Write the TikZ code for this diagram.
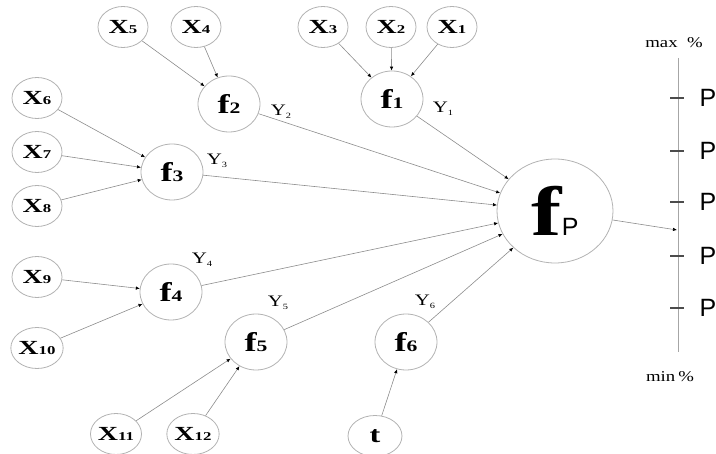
\documentclass[tikz,border=0pt]{standalone}
\usepackage{fontspec}
\usepackage{graphicx}
\setmainfont{Liberation Serif}
\setsansfont{Liberation Sans}
\usetikzlibrary{shapes.geometric,arrows.meta}
\newcommand\xlab[1]{\scalebox{1.4}[1]{\fontsize{20}{20}\selectfont\bfseries X\fontsize{12}{12}\selectfont #1}}
\newcommand\flab[1]{\scalebox{1.35}[1]{\fontsize{27}{27}\selectfont\bfseries f\fontsize{16}{16}\selectfont #1}}
\newcommand\ylab[1]{\scalebox{1.3}[1]{\fontsize{16}{16}\selectfont Y\raisebox{-0.4ex}{\fontsize{8}{8}\selectfont #1}}}
\begin{document}
\begin{tikzpicture}[x=1pt,y=-1pt,
  circ/.style={ellipse,draw=black!30,line width=0.8pt,inner sep=0pt},
  xin/.style={circ,minimum width=50pt,minimum height=41pt},
  fn/.style={circ,minimum width=62pt,minimum height=56pt},
  conn/.style={draw=black!45,line width=0.6pt,-{Latex[length=4pt,width=3.5pt,black]}},
  tickmark/.style={draw=black!70,line width=1.2pt},
  plab/.style={font=\sffamily\fontsize{25}{25}\selectfont,inner sep=0pt},
  ylabel/.style={inner sep=0pt},
  scalelab/.style={font=\fontsize{15}{15}\selectfont,inner sep=0pt}
  ]
\useasboundingbox (0,0) rectangle (716,454);
% inputs
\node[xin] (x5) at (123,27) {\xlab{5}};
\node[xin] (x4) at (196,27) {\xlab{4}};
\node[xin] (x3) at (323,27) {\xlab{3}};
\node[xin] (x2) at (391,27) {\xlab{2}};
\node[xin] (x1) at (452,27) {\xlab{1}};
\node[xin] (x6) at (37,98) {\xlab{6}};
\node[xin] (x7) at (37,152) {\xlab{7}};
\node[xin] (x8) at (37,206) {\xlab{8}};
\node[xin] (x9) at (37,277) {\xlab{9}};
\node[xin] (x10) at (37,348) {\xlab{10}};
\node[xin] (x11) at (116,434) {\xlab{11}};
\node[xin] (x12) at (193,434) {\xlab{12}};
\node[xin,minimum width=54pt] (t) at (375,436) {\scalebox{1.4}[1]{\fontsize{23}{23}\selectfont\bfseries t}};
% functions
\node[fn] (f1) at (392,99) {\flab{1}};
\node[fn] (f2) at (229,104) {\flab{2}};
\node[fn] (f3) at (172,172) {\flab{3}};
\node[fn] (f4) at (171,292) {\flab{4}};
\node[fn] (f5) at (256,342) {\flab{5}};
\node[fn] (f6) at (406,342) {\flab{6}};
\node[circ,minimum width=116pt,minimum height=104pt] (fp) at (555,211)
  {\scalebox{1.3}[1]{\fontsize{70}{70}\selectfont\bfseries f}{\sffamily\fontsize{25}{25}\selectfont P}};
% Y labels
\node[ylabel] (y1) at (443,109) {\ylab{1}};
\node[ylabel] (y2) at (281,112) {\ylab{2}};
\node[ylabel] (y3) at (217,161) {\ylab{3}};
\node[ylabel] (y4) at (202,260) {\ylab{4}};
\node[ylabel] (y5) at (278,303) {\ylab{5}};
\node[ylabel] (y6) at (425,302) {\ylab{6}};
% connectors
\draw[conn] (x5) -- (f2);
\draw[conn] (x4) -- (f2);
\draw[conn] (x3) -- (f1);
\draw[conn] (x2) -- (f1);
\draw[conn] (x1) -- (f1);
\draw[conn] (x6) -- (f3);
\draw[conn] (x7) -- (f3);
\draw[conn] (x8) -- (f3);
\draw[conn] (x9) -- (f4);
\draw[conn] (x10) -- (f4);
\draw[conn] (x11) -- (f5);
\draw[conn] (x12) -- (f5);
\draw[conn] (t) -- (f6);
\draw[conn] (f1) -- (fp);
\draw[conn] (f2) -- (fp);
\draw[conn] (f3) -- (fp);
\draw[conn] (f4) -- (fp);
\draw[conn] (f5) -- (fp);
\draw[conn] (f6) -- (fp);
% scale
\coordinate (atop) at (678,58);
\coordinate (abot) at (678,352);
\coordinate (aout) at (677,230);
\draw[draw=black!35,line width=0.8pt] (atop) -- (abot);
\draw[conn] (fp) -- (aout);
\foreach \i/\yy in {1/98,2/151,3/202,4/256,5/308}{
  \coordinate (t\i a) at (670,\yy);
  \coordinate (t\i b) at (684,\yy);
  \draw[tickmark] (t\i a) -- (t\i b);
  \node[plab] (p\i) at (708,\yy) {P};
}
\node[scalelab] (max) at (674,43) {\scalebox{1.25}[1]{max\ \ \%}};
\node[scalelab] (min) at (670,377) {\scalebox{1.25}[1]{min\,\%}};
\end{tikzpicture}
\end{document}
